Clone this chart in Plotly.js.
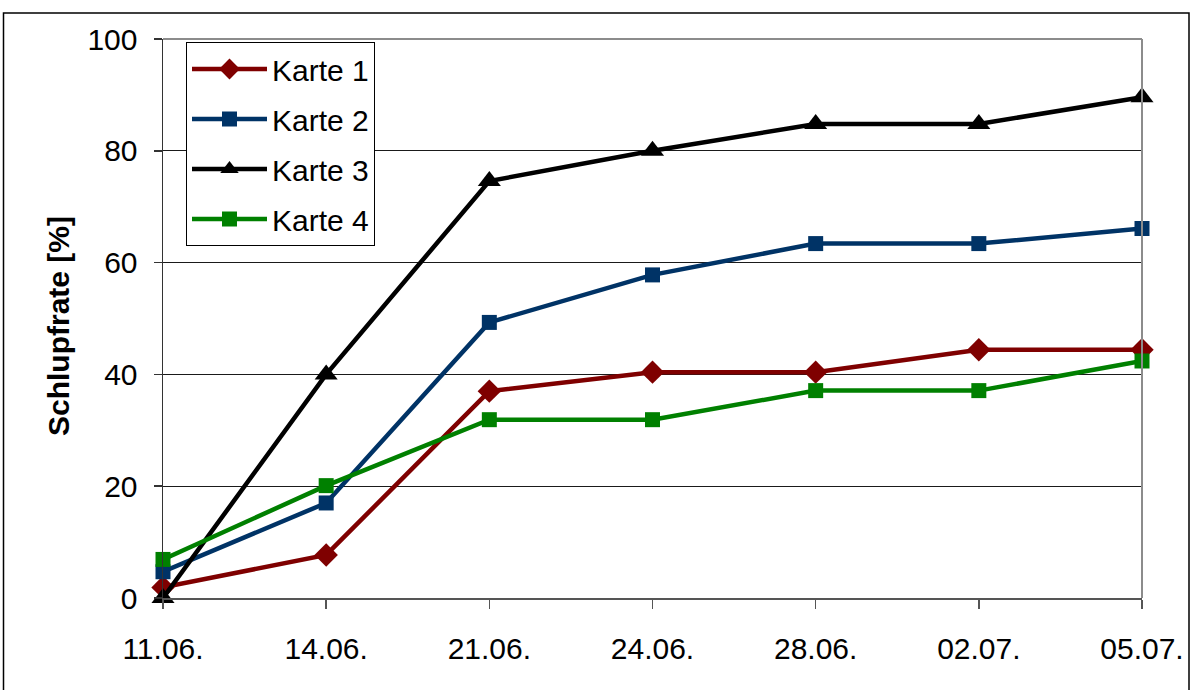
<!DOCTYPE html>
<html>
<head>
<meta charset="utf-8">
<script src="https://cdn.plot.ly/plotly-3.0.1.min.js"></script>
<style>
  html, body { margin: 0; padding: 0; background: #fff; }
  #chart { width: 1193px; height: 690px; }
</style>
</head>
<body>
<div id="chart"></div>
<script>
// Sampling dates
const dates = ['11.06.', '14.06.', '21.06.', '24.06.', '28.06.', '02.07.', '05.07.'];

// Hatch rate per card, in percent
const karte1 = [1.9, 7.7, 37.0, 40.4, 40.4, 44.4, 44.4];
const karte2 = [4.7, 17.0, 49.3, 57.8, 63.4, 63.4, 66.1];
const karte3 = [0.0, 40.0, 74.6, 80.0, 84.8, 84.8, 89.6];
const karte4 = [6.9, 20.1, 31.9, 31.9, 37.1, 37.1, 42.4];

const seriesNames = ['Karte 1', 'Karte 2', 'Karte 3', 'Karte 4'];
const yTicks = [0, 20, 40, 60, 80, 100];
const yTitle = 'Schlupfrate [%]';

const FONT = 'Arial, "Liberation Sans", sans-serif';

function series(name, values, color, symbol, size, group) {
  return {
    type: 'scatter',
    mode: 'lines+markers',
    name: name,
    legendgroup: group,
    x: dates,
    y: values,
    cliponaxis: false,
    line: { color: color, width: 4.5 },
    marker: { color: color, symbol: symbol, size: size }
  };
}

const traces = [
  series(seriesNames[0], karte1, '#7f0000', 'diamond', 18, 'g1'),
  series(seriesNames[1], karte2, '#003366', 'square', 15, 'g2'),
  series(seriesNames[2], karte3, '#000000', 'triangle-up', 20, 'g3'),
  series(seriesNames[3], karte4, '#008000', 'square', 15, 'g4')
];

// Plot area edges in pixels, used to place the legend, the y title and the outer frame
const L = 163, R = 1142, T = 39, B = 598;
const px = v => (v - L) / (R - L);
const py = v => (B - v) / (B - T);

const layout = {
  width: 1193,
  height: 690,
  margin: { l: L, r: 1193 - R, t: T, b: 690 - B },
  paper_bgcolor: '#ffffff',
  plot_bgcolor: '#ffffff',
  font: { family: FONT, color: '#000', size: 30 },
  showlegend: true,
  legend: {
    x: px(186), y: py(42), xanchor: 'left', yanchor: 'top',
    bgcolor: '#ffffff',
    bordercolor: '#000000',
    borderwidth: 1,
    font: { family: FONT, size: 30, color: '#000' },
    traceorder: 'grouped',
    tracegroupgap: 8,
    itemwidth: 75
  },
  xaxis: {
    type: 'category',
    range: [0, 6],
    showgrid: false,
    zeroline: false,
    showline: true,
    linecolor: '#555555',
    linewidth: 1.5,
    ticks: 'outside',
    ticklen: 9,
    tickcolor: '#555555',
    tickwidth: 1.5,
    ticklabelstandoff: 14,
    tickfont: { family: FONT, size: 30, color: '#000' }
  },
  yaxis: {
    range: [0, 100],
    tickvals: yTicks,
    showgrid: true,
    gridcolor: '#1a1a1a',
    gridwidth: 1,
    zeroline: false,
    showline: true,
    linecolor: '#333333',
    linewidth: 1.5,
    ticks: 'outside',
    ticklen: 8,
    tickcolor: '#333333',
    tickwidth: 1.5,
    ticklabelstandoff: 10,
    tickfont: { family: FONT, size: 30, color: '#000' }
  },
  annotations: [
    {
      text: '<b>' + yTitle + '</b>',
      xref: 'paper', yref: 'paper',
      x: px(59), y: py(326),
      xanchor: 'center', yanchor: 'middle',
      textangle: -90,
      showarrow: false,
      font: { family: FONT, size: 30, color: '#000' }
    }
  ],
  shapes: [
    // top and right border of the plot area
    { type: 'line', xref: 'paper', yref: 'paper', x0: 0, x1: 1, y0: 1, y1: 1,
      line: { color: '#8c8c8c', width: 2 } },
    { type: 'line', xref: 'paper', yref: 'paper', x0: 1, x1: 1, y0: 0, y1: 1,
      line: { color: '#8c8c8c', width: 2 } },
    // frame around the figure
    { type: 'rect', xref: 'paper', yref: 'paper',
      x0: px(3.5), x1: px(1189), y0: py(700), y1: py(13),
      line: { color: '#000000', width: 1.5 }, fillcolor: 'rgba(0,0,0,0)', layer: 'below' }
  ]
};

Plotly.newPlot('chart', traces, layout, { displayModeBar: false, staticPlot: true });
</script>
</body>
</html>
